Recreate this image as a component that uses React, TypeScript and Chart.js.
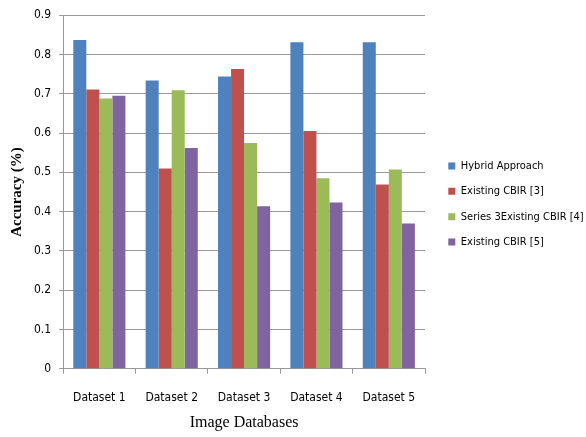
import React, { useEffect, useRef } from "react";
import { Chart, registerables } from "chart.js";

Chart.register(...registerables);

const categories = ["Dataset 1", "Dataset 2", "Dataset 3", "Dataset 4", "Dataset 5"];
const seriesNames = ["Hybrid Approach", "Existing CBIR [3]", "Series 3Existing CBIR [4]", "Existing CBIR [5]"];
const hybridApproach = [0.837, 0.734, 0.744, 0.831, 0.831];
const existingCbir3 = [0.711, 0.51, 0.763, 0.605, 0.469];
const existingCbir4 = [0.688, 0.709, 0.575, 0.485, 0.507];
const existingCbir5 = [0.695, 0.562, 0.414, 0.423, 0.37];
const seriesColors = ["#4F81BD", "#C0504D", "#9BBB59", "#8064A2"];
const yMin = 0;
const yMax = 0.9;
const yStep = 0.1;

const narrow = "'Liberation Sans Narrow', 'DejaVu Sans Condensed', 'Liberation Sans', sans-serif";
const serif = "'Liberation Serif', 'DejaVu Serif', serif";

export default function App() {
  const ref = useRef<HTMLCanvasElement | null>(null);

  useEffect(() => {
    if (!ref.current) return;
    const values = [hybridApproach, existingCbir3, existingCbir4, existingCbir5];
    const chart = new Chart(ref.current, {
      type: "bar",
      data: {
        labels: categories,
        datasets: seriesNames.map((name, i) => ({
          label: name,
          data: values[i],
          backgroundColor: seriesColors[i],
          borderWidth: 0,
          barPercentage: 1,
          categoryPercentage: 0.72,
        })),
      },
      options: {
        responsive: false,
        animation: false,
        layout: { padding: { left: 8, top: 8, right: 0, bottom: 8 } },
        plugins: {
          tooltip: { enabled: false },
          legend: {
            position: "right",
            fullSize: false,
            align: "center",
            maxWidth: 152,
            title: {
              display: true,
              text: " ",
              padding: 0,
              font: { size: 20, lineHeight: 1.2 },
            },
            labels: {
              boxWidth: 7,
              boxHeight: 7,
              padding: 14.3,
              color: "#000",
              font: { family: narrow, size: 11 },
            },
          },
        },
        scales: {
          x: {
            grid: {
              display: true,
              drawOnChartArea: false,
              drawTicks: true,
              tickLength: 5,
              offset: true,
              color: "#999",
            },
            border: { display: true, color: "#999" },
            ticks: {
              color: "#000",
              padding: 17,
              font: { family: narrow, size: 12 },
            },
            title: {
              display: true,
              text: "Image Databases",
              color: "#000",
              font: { family: serif, size: 16, lineHeight: 0.8 },
              padding: { top: -6, bottom: 0 },
            },
          },
          y: {
            min: yMin,
            max: yMax,
            grid: { color: "#999", tickLength: 4 },
            border: { display: true, color: "#999" },
            ticks: {
              stepSize: yStep,
              color: "#000",
              padding: 8,
              font: { family: narrow, size: 12 },
              callback: (v: any) => (Number(v) === 0 ? "0" : Number(v).toFixed(1)),
            },
            title: {
              display: true,
              text: "Accuracy (%)",
              color: "#000",
              font: { family: serif, size: 15, weight: "bold" },
              padding: { top: 0, bottom: 0 },
            },
          },
          gap: {
            type: "linear",
            position: "right",
            display: true,
            grid: { display: false, drawTicks: false },
            border: { display: false },
            ticks: { display: false },
            afterFit: (s: any) => {
              s.width = 9;
            },
          },
        },
      },
    });
    return () => chart.destroy();
  }, []);

  return (
    <div style={{ position: "fixed", left: 0, top: 0, width: 586, height: 437, background: "#fff" }}>
      <canvas ref={ref} width={586} height={437} style={{ width: 586, height: 437, display: "block" }} />
    </div>
  );
}
